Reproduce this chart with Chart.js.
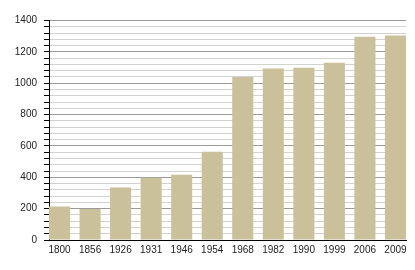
<!DOCTYPE html>
<html>
<head>
<meta charset="utf-8">
<script src="https://cdn.jsdelivr.net/npm/chart.js@4/dist/chart.umd.min.js"></script>
<style>
  html, body { margin: 0; padding: 0; background: #fff; }
  #wrap { width: 415px; height: 270px; }
</style>
</head>
<body>
<div id="wrap"><canvas id="chartPop"></canvas></div>
<script>
// years and population values
const years = ["1800", "1856", "1926", "1931", "1946", "1954", "1968", "1982", "1990", "1999", "2006", "2009"];
const population = [214, 198, 335, 397, 416, 563, 1039, 1094, 1098, 1130, 1296, 1304];
const yTicks = [0, 200, 400, 600, 800, 1000, 1200, 1400];

const barPct = 0.69;
const barColor = "rgb(202, 192, 153)";

const ctx = document.querySelector("#chartPop").getContext("2d");

const chartPop = new Chart(ctx, {
  type: "bar",
  data: {
    datasets: [{
      data: population.map((v, i) => ({ x: i, y: v })),
      backgroundColor: barColor,
      borderWidth: 0,
      categoryPercentage: 1,
      barPercentage: barPct
    }]
  },
  options: {
    responsive: true,
    maintainAspectRatio: false,
    animation: false,
    layout: { padding: { top: 20.5, right: 9, left: 0, bottom: 0 } },
    plugins: { legend: { display: false }, tooltip: { enabled: false } },
    scales: {
      x: {
        type: "linear",
        offset: false,
        // bars touch the axis lines at both ends
        min: -barPct / 2,
        max: years.length - 1 + barPct / 2,
        grid: { display: false, drawTicks: false },
        border: { color: "#000", width: 1 },
        ticks: {
          stepSize: 1,
          includeBounds: false,
          autoSkip: false,
          maxRotation: 0,
          padding: 4,
          color: "#222",
          font: { family: "Liberation Sans", size: 10 },
          callback: (v) => years[v]
        },
        afterFit: (scale) => { scale.height = 30; }
      },
      y: {
        min: 0,
        max: 1400,
        grid: {
          color: (c) => (c.tick && c.tick.value % 200 === 0) ? "#9a9a9a" : "#d2d2d2",
          tickColor: "#000",
          tickLength: 5,
          lineWidth: 1
        },
        border: { color: "#000", width: 1 },
        ticks: {
          stepSize: 40,
          autoSkip: false,
          padding: 7,
          color: "#222",
          font: { family: "Liberation Sans", size: 10 },
          callback: (v) => yTicks.includes(v) ? v : ""
        },
        afterFit: (scale) => { scale.width = 49; }
      }
    }
  }
});
</script>
</body>
</html>
